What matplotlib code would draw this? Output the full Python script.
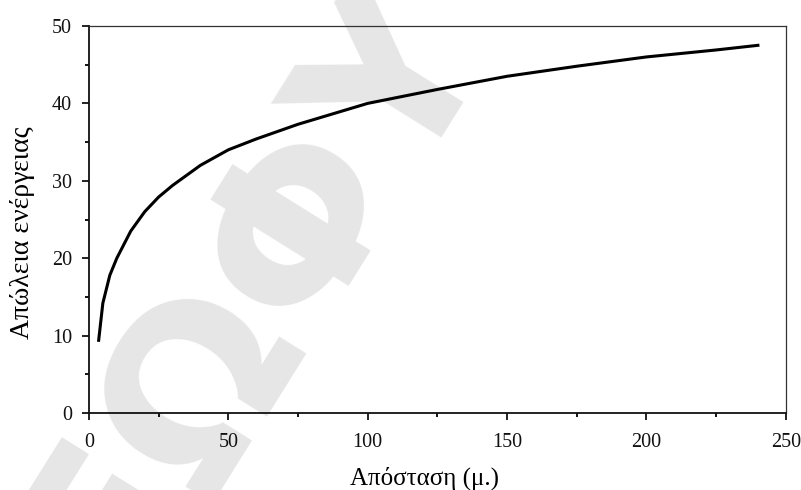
import matplotlib
matplotlib.use("Agg")
import matplotlib.pyplot as plt
from matplotlib.ticker import MultipleLocator

# Data
distance = [3.5, 5, 7.5, 10, 15, 20, 25, 30, 40, 50, 60, 75, 100, 125, 150, 175, 200, 225, 240]
energy_loss = [9.4, 14.2, 17.8, 20.0, 23.5, 26.0, 27.9, 29.4, 32.0, 34.0, 35.4, 37.3, 40.0, 41.8, 43.5, 44.8, 46.0, 46.9, 47.5]

xlabel = "Απόσταση (μ.)"
ylabel = "Απώλεια ενέργειας"
watermark = "ΕΩΦΥ"

plt.rcParams['font.family'] = ['Liberation Serif', 'DejaVu Serif']

fig = plt.figure(figsize=(8.01, 4.90), dpi=100)
fig.patch.set_facecolor("white")

fig.text(0.315, 0.40, watermark, fontsize=160, fontweight="bold",
         family=["DejaVu Sans"], color="#e6e6e6", rotation=58,
         ha="center", va="center", zorder=-1)

ax = fig.add_axes([0.111, 0.157, 0.870, 0.790])
ax.patch.set_alpha(0)
ax.plot(distance, energy_loss, color="black", linewidth=2.2, zorder=3)

ax.set_xlim(0, 250)
ax.set_ylim(0, 50)
ax.xaxis.set_major_locator(MultipleLocator(50))
ax.xaxis.set_minor_locator(MultipleLocator(25))
ax.yaxis.set_major_locator(MultipleLocator(10))
ax.yaxis.set_minor_locator(MultipleLocator(5))

for side in ("left", "bottom"):
    ax.spines[side].set_linewidth(1.3)
    ax.spines[side].set_color("#111111")
for side in ("top", "right"):
    ax.spines[side].set_linewidth(0.9)
    ax.spines[side].set_color("#333333")

ax.tick_params(which="major", direction="out", length=5, width=1.3,
               labelsize=14.5, colors="#111111")
ax.tick_params(which="minor", direction="out", length=3, width=1.3)
ax.tick_params(axis="x", which="major", pad=9)
ax.tick_params(axis="y", which="major", pad=7)

ax.set_xlabel(xlabel, fontsize=18)
ax.set_ylabel(ylabel, fontsize=20)
ax.xaxis.set_label_coords(0.482, -0.137)
ax.yaxis.set_label_coords(-0.077, 0.465)

fig.savefig("out.png", dpi=100)
